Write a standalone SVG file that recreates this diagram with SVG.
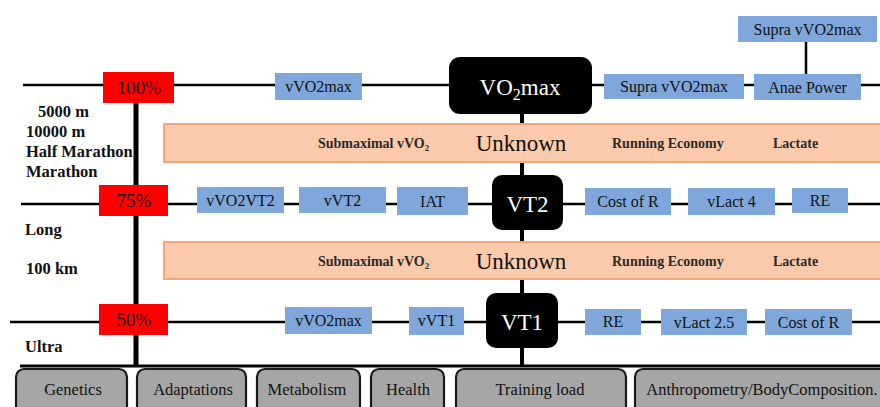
<svg xmlns="http://www.w3.org/2000/svg" width="880" height="407" viewBox="0 0 880 407">
  <style>
    text { font-family: "Liberation Serif", "Times New Roman", serif; fill: #111; }
    .blue { fill: #7fa7db; }
    .red { fill: #ff0000; }
    .band { fill: #fbcaad; stroke: #f5a47c; stroke-width: 2; }
    .core { fill: #000; }
    .grey { fill: #a6a6a6; stroke: #1a1a1a; stroke-width: 2.2; }
    .lbl { font-size: 16px; text-anchor: middle; }
    .gl { font-size: 16.5px; text-anchor: middle; }
    .pct { font-size: 19px; text-anchor: middle; }
    .core-t { font-size: 23px; text-anchor: middle; fill: #fff; }
    .side { font-size: 16.5px; font-weight: bold; }
    .bandt { font-size: 14px; font-weight: bold; fill: #2a2a2a; }
    .unk { font-size: 23px; text-anchor: middle; }
    .line { stroke: #000; stroke-width: 2.5; fill: none; }
  </style>

  <!-- connectors -->
  <g id="connectors">
    <line class="line" x1="23" y1="85" x2="880" y2="85"/>
    <line class="line" x1="21" y1="204" x2="880" y2="204"/>
    <line class="line" x1="10" y1="322" x2="880" y2="322"/>
    <line class="line" x1="806" y1="42" x2="806" y2="74"/>
    <line x1="136" y1="100" x2="136" y2="367" stroke="#000" stroke-width="5"/>
    <line x1="522" y1="112" x2="522" y2="367" stroke="#000" stroke-width="4"/>
    <line x1="20" y1="366" x2="880" y2="366" stroke="#000" stroke-width="3"/>
  </g>

  <!-- distance labels -->
  <g id="distances">
    <text class="side" x="38" y="117">5000 m</text>
    <text class="side" x="26" y="137">10000 m</text>
    <text class="side" x="26" y="157">Half Marathon</text>
    <text class="side" x="26" y="177">Marathon</text>
    <text class="side" x="25" y="235">Long</text>
    <text class="side" x="26" y="274">100 km</text>
    <text class="side" x="25" y="352">Ultra</text>
  </g>

  <!-- unknown bands -->
  <g id="band1">
    <rect class="band" x="164" y="124" width="720" height="38"/>
    <text class="bandt" x="318" y="148">Submaximal vVO<tspan font-size="9" dy="3">2</tspan></text>
    <text class="unk" x="521" y="151">Unknown</text>
    <text class="bandt" x="612" y="148">Running  Economy</text>
    <text class="bandt" x="773" y="148">Lactate</text>
  </g>
  <g id="band2">
    <rect class="band" x="164" y="242" width="720" height="37"/>
    <text class="bandt" x="318" y="266">Submaximal vVO<tspan font-size="9" dy="3">2</tspan></text>
    <text class="unk" x="521" y="269">Unknown</text>
    <text class="bandt" x="612" y="266">Running  Economy</text>
    <text class="bandt" x="773" y="266">Lactate</text>
  </g>

  <!-- intensity markers -->
  <g id="p100"><rect class="red" x="103" y="72" width="71" height="31"/><text class="pct" x="139" y="94">100%</text></g>
  <g id="p75"><rect class="red" x="99" y="185" width="69" height="31"/><text class="pct" x="134" y="207">75%</text></g>
  <g id="p50"><rect class="red" x="99" y="304" width="69" height="31"/><text class="pct" x="134" y="326">50%</text></g>

  <!-- row 1: maximal -->
  <g id="vvo2max1"><rect class="blue" x="275" y="73" width="87" height="27"/><text class="lbl" x="318.5" y="92">vVO2max</text></g>
  <g id="vo2max">
    <rect class="core" x="449" y="57" width="143" height="57" rx="11"/>
    <text class="core-t" x="520" y="95">VO<tspan font-size="16" dy="5">2</tspan><tspan dy="-5">max</tspan></text>
  </g>
  <g id="supra1"><rect class="blue" x="604" y="74" width="140" height="25"/><text class="lbl" x="674" y="92">Supra vVO2max</text></g>
  <g id="anae"><rect class="blue" x="754" y="74" width="107" height="26"/><text class="lbl" x="807.5" y="93">Anae Power</text></g>
  <g id="supra2"><rect class="blue" x="738" y="16" width="139" height="26"/><text class="lbl" x="807.5" y="35">Supra vVO2max</text></g>

  <!-- row 2: VT2 -->
  <g id="vvo2vt2"><rect class="blue" x="197" y="187" width="87" height="26"/><text class="lbl" x="240.5" y="206">vVO2VT2</text></g>
  <g id="vvt2"><rect class="blue" x="299" y="187" width="87" height="26"/><text class="lbl" x="342.5" y="206">vVT2</text></g>
  <g id="iat"><rect class="blue" x="397" y="187" width="71" height="28"/><text class="lbl" x="432.5" y="207">IAT</text></g>
  <g id="vt2">
    <rect class="core" x="492" y="175" width="71" height="55" rx="10"/>
    <text class="core-t" x="527.5" y="212">VT2</text>
  </g>
  <g id="cost2"><rect class="blue" x="585" y="188" width="86" height="27"/><text class="lbl" x="628" y="207">Cost of R</text></g>
  <g id="vlact4"><rect class="blue" x="688" y="188" width="87" height="27"/><text class="lbl" x="731.5" y="207">vLact 4</text></g>
  <g id="re2"><rect class="blue" x="792" y="188" width="56" height="25"/><text class="lbl" x="820" y="206">RE</text></g>

  <!-- row 3: VT1 -->
  <g id="vvo2max3"><rect class="blue" x="285" y="307" width="87" height="27"/><text class="lbl" x="328.5" y="326">vVO2max</text></g>
  <g id="vvt1"><rect class="blue" x="409" y="307" width="55" height="28"/><text class="lbl" x="436.5" y="326">vVT1</text></g>
  <g id="vt1">
    <rect class="core" x="486" y="293" width="72" height="55" rx="10"/>
    <text class="core-t" x="522" y="330">VT1</text>
  </g>
  <g id="re3"><rect class="blue" x="585" y="309" width="56" height="26"/><text class="lbl" x="613" y="327">RE</text></g>
  <g id="vlact25"><rect class="blue" x="661" y="309" width="86" height="26"/><text class="lbl" x="704" y="328">vLact 2.5</text></g>
  <g id="cost3"><rect class="blue" x="765" y="309" width="87" height="26"/><text class="lbl" x="808.5" y="328">Cost of R</text></g>

  <!-- determinants -->
  <g id="genetics"><rect class="grey" x="16" y="369" width="111" height="50" rx="8"/><text class="gl" x="73" y="395">Genetics</text></g>
  <g id="adaptations"><rect class="grey" x="137" y="369" width="109" height="50" rx="8"/><text class="gl" x="193" y="395">Adaptations</text></g>
  <g id="metabolism"><rect class="grey" x="257" y="369" width="103" height="50" rx="8"/><text class="gl" x="307" y="395">Metabolism</text></g>
  <g id="health"><rect class="grey" x="371" y="369" width="73" height="50" rx="8"/><text class="gl" x="408" y="395">Health</text></g>
  <g id="training"><rect class="grey" x="456" y="369" width="170" height="50" rx="8"/><text class="gl" x="540" y="395">Training load</text></g>
  <g id="anthropometry"><rect class="grey" x="635" y="369" width="260" height="50" rx="8"/><text class="gl" x="762" y="395">Anthropometry/BodyComposition.</text></g>
</svg>
